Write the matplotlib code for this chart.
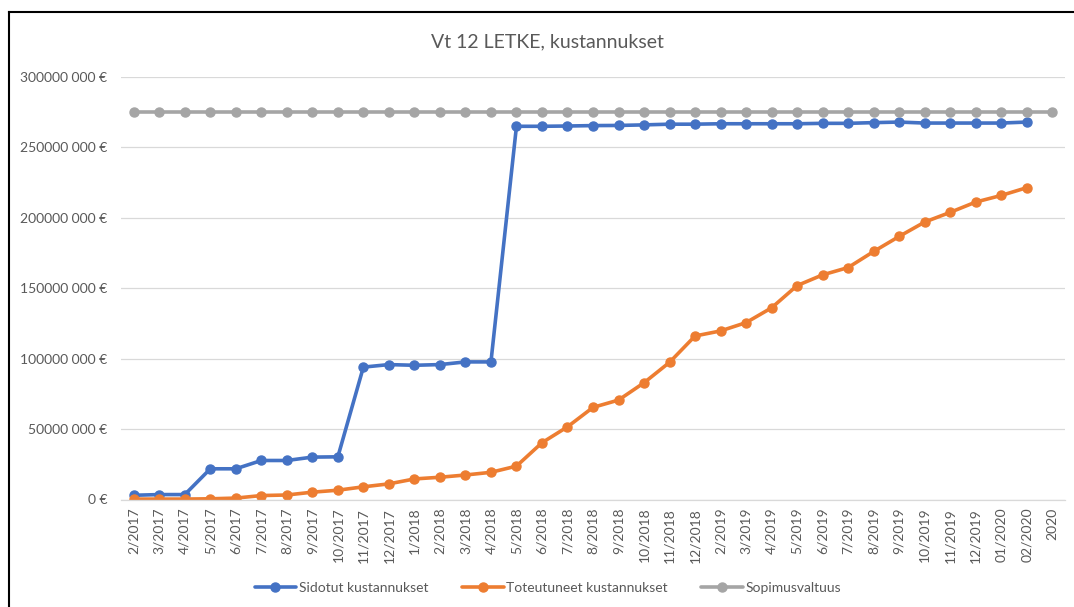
import numpy as np
import matplotlib
matplotlib.use("Agg")
import matplotlib.pyplot as plt
from matplotlib.lines import Line2D
from matplotlib.ticker import FuncFormatter

plt.rcParams['font.family'] = ['Lato', 'DejaVu Sans']

# Categories (months)
months = ['2/2017', '3/2017', '4/2017', '5/2017', '6/2017', '7/2017', '8/2017',
          '9/2017', '10/2017', '11/2017', '12/2017', '1/2018', '2/2018', '3/2018',
          '4/2018', '5/2018', '6/2018', '7/2018', '8/2018', '9/2018', '10/2018',
          '11/2018', '12/2018', '2/2019', '3/2019', '4/2019', '5/2019', '6/2019',
          '7/2019', '8/2019', '9/2019', '10/2019', '11/2019', '12/2019', '01/2020',
          '02/2020', '2020']

# Values in million euros (None = no value)
sidotut = [3.0, 3.5, 3.5, 21.8, 21.8, 27.7, 27.7, 30.1, 30.3, 94.0, 95.8, 95.3,
           95.8, 97.7, 97.7, 265.0, 265.0, 265.2, 265.5, 265.6, 266.0, 266.5,
           266.5, 266.8, 266.8, 266.8, 266.8, 267.1, 267.1, 267.6, 268.0, 267.3,
           267.3, 267.3, 267.3, 268.0, None]
toteutuneet = [0.3, 0.3, 0.3, 0.5, 1.0, 2.8, 3.2, 5.2, 6.6, 9.0, 11.1, 14.6,
               15.8, 17.4, 19.3, 23.7, 40.3, 51.6, 65.4, 70.6, 82.9, 97.4, 116.1,
               119.7, 125.6, 136.1, 151.9, 159.5, 164.7, 176.1, 186.8, 197.0, 203.9,
               211.2, 215.9, 221.4, None]
sopimusvaltuus = [275.0] * len(months)

series = [
    ('Sidotut kustannukset', sidotut, '#4472C4'),
    ('Toteutuneet kustannukset', toteutuneet, '#ED7D31'),
    ('Sopimusvaltuus', sopimusvaltuus, '#A5A5A5'),
]

fig = plt.figure(figsize=(10.74, 6.07), dpi=100)
ax = fig.add_axes([121 / 1074, 1 - 499.5 / 607, (1065 - 121) / 1074, (499.5 - 77) / 607])

x = np.arange(len(months))
handles = []
for name, vals, color in series:
    y = np.array([np.nan if v is None else v * 1e6 for v in vals])
    h, = ax.plot(x, y, color=color, lw=2.6, marker='o', markersize=6.5, label=name,
                 solid_capstyle='round')
    handles.append(h)

ax.set_xlim(-0.5, len(months) - 0.5)
ax.set_ylim(0, 300e6)
ax.set_yticks(np.arange(0, 300e6 + 1, 50e6))


def eur(v, pos):
    v = int(round(v))
    if v == 0:
        return '0 €'
    return f'{v // 1000} {v % 1000:03d} €'


ax.yaxis.set_major_formatter(FuncFormatter(eur))
ax.set_xticks(x)
ax.set_xticklabels(months, rotation=90)

ax.grid(axis='y', color='#D9D9D9', lw=0.9)
ax.set_axisbelow(True)
for s in ['top', 'right', 'left']:
    ax.spines[s].set_visible(False)
ax.spines['bottom'].set_color('#D9D9D9')
ax.spines['bottom'].set_linewidth(0.9)
ax.tick_params(axis='both', length=0, colors='#595959', labelsize=10)
ax.tick_params(axis='y', pad=10)
ax.tick_params(axis='x', pad=6)

fig.text(547 / 1074, 1 - 42 / 607, 'Vt 12 LETKE, kustannukset', ha='center', va='center',
         fontsize=14, color='#595959')

fig.legend(handles=handles, loc='center', bbox_to_anchor=(548 / 1074, 1 - 588 / 607),
           ncol=3, frameon=False, fontsize=10, labelcolor='#595959',
           handlelength=3.0, handletextpad=0.2, columnspacing=2.4)

# chart frame (left and top edges visible)
fig.add_artist(Line2D([9 / 1074, 9 / 1074], [0, 1 - 12 / 607], color='black', lw=1.5,
                      transform=fig.transFigure))
fig.add_artist(Line2D([9 / 1074, 1], [1 - 12 / 607, 1 - 12 / 607], color='black', lw=1.5,
                      transform=fig.transFigure))

fig.savefig('out.png', dpi=100)
